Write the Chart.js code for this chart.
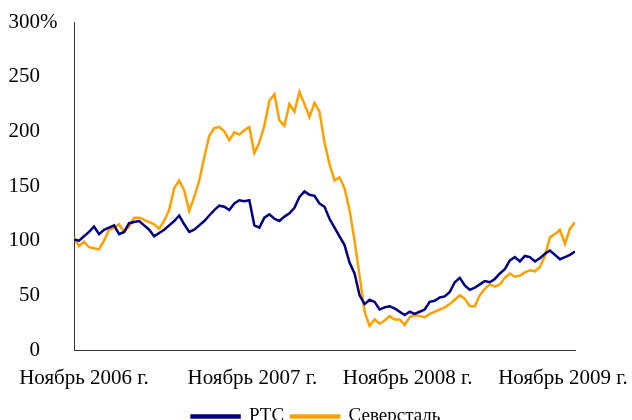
<!DOCTYPE html>
<html>
<head>
<meta charset="utf-8">
<script src="https://cdn.jsdelivr.net/npm/chart.js"></script>
<style>
  html, body { margin: 0; padding: 0; background: #fff; }
  #wrap { width: 632px; height: 420px; }
</style>
</head>
<body>
<div id="wrap"><canvas id="chart"></canvas></div>
<script>
// index, % of starting level (Nov 2006 = 100)
const rts = [
  101, 100, 104, 108, 113, 106, 110, 112, 114, 106,
  108, 116, 117, 118, 114, 110, 104, 107, 110, 114,
  118, 123, 115, 108, 110, 114, 118, 123, 128, 132,
  131, 128, 134, 137, 136, 137, 114, 112, 121, 124,
  120, 118, 122, 125, 130, 140, 145, 142, 141, 134,
  131, 120, 112, 104, 96, 80, 70, 50, 42, 46,
  44, 37, 39, 40, 38, 35, 32, 35, 33, 35,
  37, 44, 45, 48, 49, 53, 62, 66, 59, 55,
  57, 60, 63, 62, 65, 70, 74, 82, 85, 81,
  86, 85, 81, 84, 88, 91, 87, 83, 85, 87, 90
];
const severstal = [
  103, 95, 99, 94, 93, 92, 100, 110, 112, 115,
  108, 113, 121, 121, 119, 117, 115, 111, 118, 128,
  148, 155, 146, 127, 140, 155, 176, 196, 203, 204,
  200, 192, 199, 197, 201, 204, 180, 190, 205, 228,
  234, 210, 205, 225, 218, 236, 225, 213, 226, 218,
  190, 170, 155, 158, 148, 128, 100, 68, 35, 22,
  28, 24, 27, 31, 28, 28, 23, 30, 32, 31,
  30, 33, 35, 37, 39, 42, 46, 50, 47, 40,
  40, 50, 56, 60, 58, 60, 66, 70, 67, 68,
  71, 73, 72, 76, 86, 103, 106, 110, 97, 111, 117
];
const tickLabels = ["Ноябрь 2006 г.", "Ноябрь 2007 г.", "Ноябрь 2008 г.", "Ноябрь 2009 г."];
const tickIndex = [2, 35.6, 66.6, 97.6];
const yMax = 300;
const yStep = 50;

const fontFamily = "'Liberation Serif', 'Times New Roman', serif";
const font = { family: fontFamily, size: 21 };
const legendFont = { family: fontFamily, size: 19 };

// "%" after the top y label
const percentSign = {
  id: "percentSign",
  afterDraw(chart) {
    const y = chart.scales.y;
    const ctx = chart.ctx;
    ctx.save();
    ctx.font = font.size + "px " + font.family;
    ctx.fillStyle = "#000";
    ctx.textAlign = "left";
    ctx.textBaseline = "middle";
    ctx.fillText("%", y.right - y.options.ticks.padding, y.getPixelForValue(yMax));
    ctx.restore();
  }
};

new Chart(document.getElementById("chart"), {
  type: "line",
  data: {
    datasets: [
      {
        label: "РТС",
        data: rts.map((v, i) => ({ x: i, y: v })),
        borderColor: "#000080",
        backgroundColor: "#000080",
        borderWidth: 2.5,
        pointRadius: 0,
        tension: 0,
      },
      {
        label: "Северсталь",
        data: severstal.map((v, i) => ({ x: i, y: v })),
        borderColor: "#ffa000",
        backgroundColor: "#ffa000",
        borderWidth: 2.5,
        pointRadius: 0,
        tension: 0,
      },
    ],
  },
  options: {
    responsive: true,
    maintainAspectRatio: false,
    animation: false,
    layout: { padding: { left: 0, right: 0, top: 0, bottom: -16 } },
    scales: {
      x: {
        type: "linear",
        min: 0,
        max: rts.length - 1,
        grid: { display: false, drawTicks: false },
        border: { display: true, color: "#333", width: 1 },
        afterBuildTicks: (scale) => {
          scale.ticks = tickIndex.map((v) => ({ value: v }));
        },
        afterFit: (scale) => {
          scale.height = 50;
          scale.paddingLeft = 0;
          scale.paddingRight = 57;
        },
        ticks: {
          autoSkip: false,
          maxRotation: 0,
          padding: 16,
          color: "#000",
          font: font,
          callback: (v) => tickLabels[tickIndex.indexOf(v)],
        },
      },
      y: {
        min: 0,
        max: yMax,
        grid: { display: false, drawTicks: false },
        border: { display: true, color: "#333", width: 1 },
        afterFit: (scale) => {
          scale.width = 74;
          scale.paddingTop = 22;
          scale.paddingBottom = 0;
        },
        ticks: {
          stepSize: yStep,
          padding: 34,
          color: "#000",
          font: font,
        },
      },
    },
    plugins: {
      legend: {
        position: "bottom",
        labels: {
          boxWidth: 48,
          boxHeight: 2,
          color: "#000",
          font: legendFont,
          padding: 7,
        },
      },
      tooltip: { enabled: false },
    },
  },
  plugins: [percentSign],
});
</script>
</body>
</html>
